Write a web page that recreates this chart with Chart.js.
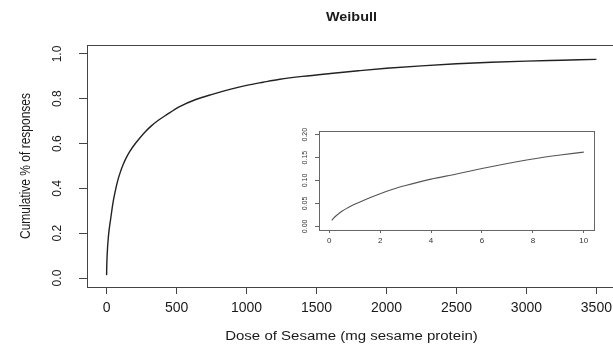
<!DOCTYPE html>
<html><head><meta charset="utf-8">
<script src="https://cdn.jsdelivr.net/npm/chart.js@4/dist/chart.umd.min.js"></script>
<style>
html,body{margin:0;padding:0;background:#fff;overflow:hidden;width:613px;height:350px;}
#wrap{position:relative;width:613px;height:350px;overflow:hidden;background:#fff;}
#main{position:absolute;left:0;top:0;}
#inset{position:absolute;left:280px;top:118px;}
</style></head><body>
<div id="wrap"><canvas id="main" width="640" height="350"></canvas><canvas id="inset" width="333" height="142"></canvas></div>
<script>
// ---- data ----
const chartTitle = "Weibull";
const xTitle = "Dose of Sesame (mg sesame protein)";
const yTitle = "Cumulative % of responses";

const doseMain = [0.1, 0.5, 1, 2, 3, 5, 7, 10, 15, 21, 30, 45, 60, 80, 100, 117, 140, 165, 200, 236, 280, 320, 370, 427, 522, 642, 761, 881, 1000, 1119, 1238, 1400, 1600, 1800, 2000, 2250, 2500, 2750, 3000, 3250, 3500];
const respMain = [0.013, 0.033, 0.048, 0.071, 0.089, 0.114, 0.137, 0.162, 0.198, 0.229, 0.268, 0.333, 0.382, 0.436, 0.476, 0.504, 0.536, 0.564, 0.596, 0.624, 0.655, 0.679, 0.704, 0.728, 0.765, 0.798, 0.821, 0.842, 0.860, 0.874, 0.887, 0.900, 0.913, 0.925, 0.936, 0.947, 0.956, 0.963, 0.968, 0.972, 0.976];

const doseInset = [0.1, 0.25, 0.5, 0.75, 1, 1.5, 2, 2.5, 3, 4, 5, 6, 7, 8, 9, 10];
const respInset = [0.013, 0.022, 0.033, 0.041, 0.048, 0.060, 0.071, 0.081, 0.089, 0.103, 0.114, 0.126, 0.137, 0.147, 0.155, 0.162];

const xTicksMain = [0, 500, 1000, 1500, 2000, 2500, 3000, 3500];
const yTicksMain = [0, 0.2, 0.4, 0.6, 0.8, 1.0];
const xTicksInset = [0, 2, 4, 6, 8, 10];
const yTicksInset = [0, 0.05, 0.10, 0.15, 0.20];

// ---- helpers ----
const FONT = '"Liberation Sans", Arial, Helvetica, sans-serif';
const boxPlugin = {
  id: 'box',
  afterDraw(chart, args, opts) {
    const {ctx, chartArea: a} = chart;
    ctx.save();
    ctx.strokeStyle = opts.color || '#444';
    ctx.lineWidth = 1;
    ctx.strokeRect(Math.round(a.left) + 0.5, Math.round(a.top) + 0.5,
                   Math.round(a.right - a.left), Math.round(a.bottom - a.top));
    ctx.restore();
  }
};
const textPlugin = {
  id: 'rtexts',
  afterDraw(chart) {
    const {ctx, chartArea: a} = chart;
    const cx = (a.left + a.right) / 2;
    const cy = (a.top + a.bottom) / 2;
    ctx.save();
    ctx.fillStyle = '#1a1a1a';
    ctx.textAlign = 'center';
    ctx.textBaseline = 'middle';
    // main title
    ctx.save();
    ctx.translate(cx, 18); ctx.scale(1.2, 1);
    ctx.font = 'bold 12px ' + FONT;
    ctx.fillText(chartTitle, 0, 0);
    ctx.restore();
    // x title
    ctx.save();
    ctx.translate(cx, 337); ctx.scale(1.2, 1);
    ctx.font = '12.5px ' + FONT;
    ctx.fillText(xTitle, 0, 0);
    ctx.restore();
    // y title
    ctx.save();
    ctx.translate(26, cy); ctx.scale(1.2, 1); ctx.rotate(-Math.PI / 2);
    ctx.font = '12px ' + FONT;
    ctx.fillText(yTitle, 0, 0);
    ctx.restore();
    ctx.restore();
  }
};

function pts(xs, ys) { return xs.map((x, i) => ({x: x, y: ys[i]})); }

// ---- main chart ----
new Chart(document.getElementById('main'), {
  type: 'line',
  data: {
    datasets: [{
      data: pts(doseMain, respMain),
      borderColor: '#222',
      borderWidth: 1.4,
      pointRadius: 0,
      fill: false,
      cubicInterpolationMode: 'monotone'
    }]
  },
  options: {
    responsive: false,
    animation: false,
    devicePixelRatio: 1,
    layout: {padding: {top: 45, right: 24, left: 0, bottom: 0}},
    plugins: {legend: {display: false}, tooltip: {enabled: false}, title: {display: false}, box: {color: '#444'}},
    scales: {
      x: {
        type: 'linear', min: -140, max: 3640,
        afterBuildTicks: s => { s.ticks = xTicksMain.map(v => ({value: v})); },
        afterFit: s => { s.height = 63; },
        grid: {display: true, drawOnChartArea: false, drawTicks: true, tickLength: 7, color: '#444', lineWidth: 1},
        border: {display: false},
        ticks: {color: '#1a1a1a', font: {family: FONT, size: 14}, padding: 6, maxRotation: 0, minRotation: 0, autoSkip: false,
                callback: v => String(v)}
      },
      y: {
        type: 'linear', min: -0.04, max: 1.04,
        afterBuildTicks: s => { s.ticks = yTicksMain.map(v => ({value: v})); },
        afterFit: s => { s.width = 87; },
        grid: {display: true, drawOnChartArea: false, drawTicks: true, tickLength: 8, color: '#444', lineWidth: 1},
        border: {display: false},
        ticks: {color: '#1a1a1a', font: {family: FONT, size: 12}, padding: 13, minRotation: 90, maxRotation: 90,
                crossAlign: 'center', autoSkip: false, callback: v => Number(v).toFixed(1)}
      }
    }
  },
  plugins: [boxPlugin, textPlugin]
});

// ---- inset chart ----
new Chart(document.getElementById('inset'), {
  type: 'line',
  data: {
    datasets: [{
      data: pts(doseInset, respInset),
      borderColor: '#555',
      borderWidth: 1.1,
      pointRadius: 0,
      fill: false,
      cubicInterpolationMode: 'monotone'
    }]
  },
  options: {
    responsive: false,
    animation: false,
    devicePixelRatio: 1,
    layout: {padding: {top: 13, right: 19, left: 0, bottom: 0}},
    plugins: {legend: {display: false}, tooltip: {enabled: false}, title: {display: false}, box: {color: '#666'}},
    scales: {
      x: {
        type: 'linear', min: -0.4, max: 10.4,
        afterBuildTicks: s => { s.ticks = xTicksInset.map(v => ({value: v})); },
        afterFit: s => { s.height = 30; },
        grid: {display: true, drawOnChartArea: false, drawTicks: true, tickLength: 3, color: '#666', lineWidth: 1},
        border: {display: false},
        ticks: {color: '#333', font: {family: FONT, size: 8}, padding: 3, maxRotation: 0, minRotation: 0, autoSkip: false,
                callback: v => String(v)}
      },
      y: {
        type: 'linear', min: -0.008, max: 0.208,
        afterBuildTicks: s => { s.ticks = yTicksInset.map(v => ({value: v})); },
        afterFit: s => { s.width = 39; },
        grid: {display: true, drawOnChartArea: false, drawTicks: true, tickLength: 4, color: '#666', lineWidth: 1},
        border: {display: false},
        ticks: {color: '#333', font: {family: FONT, size: 7}, padding: 3, minRotation: 90, maxRotation: 90,
                crossAlign: 'center', autoSkip: false, callback: v => Number(v).toFixed(2)}
      }
    }
  },
  plugins: [boxPlugin]
});
</script>
</body></html>
